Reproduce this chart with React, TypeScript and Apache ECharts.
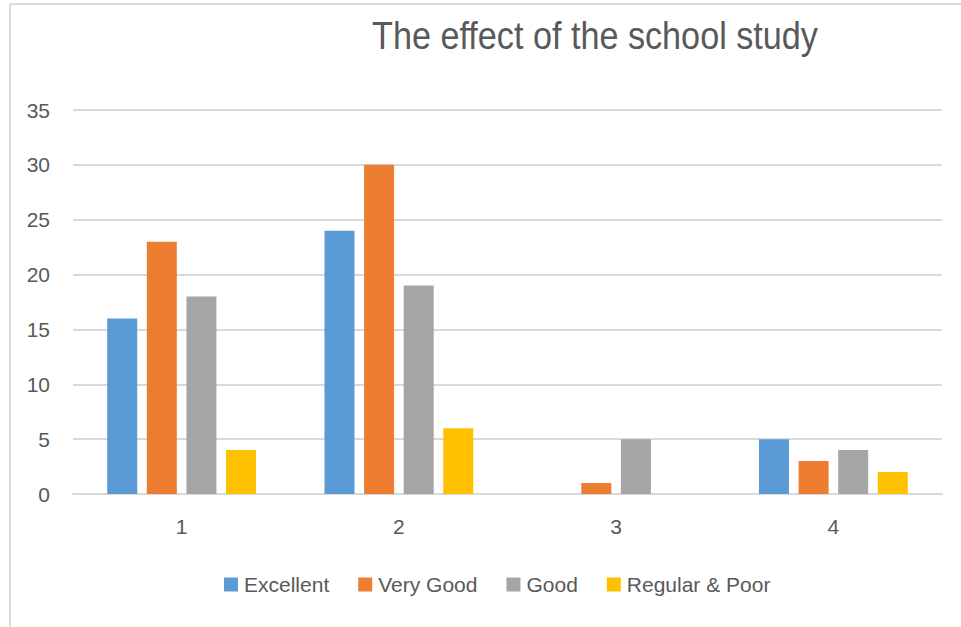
import React, { useEffect, useRef } from "react";
import * as echarts from "echarts";

const categories = ["1", "2", "3", "4"];
const seriesNames = ["Excellent", "Very Good", "Good", "Regular & Poor"];
const excellent = [16, 24, 0, 5];
const veryGood = [23, 30, 1, 3];
const good = [18, 19, 5, 4];
const regularPoor = [4, 6, 0, 2];
const colors = ["#5b9bd5", "#ed7d31", "#a5a5a5", "#ffc000"];
const titleText = "The effect of the school study";

const FONT = "'Liberation Sans', Arial, sans-serif";

export default function App() {
  const ref = useRef<HTMLDivElement>(null);
  useEffect(() => {
    if (!ref.current) return;
    const chart = echarts.init(ref.current, undefined, { renderer: "svg" });
    const values = [excellent, veryGood, good, regularPoor];
    chart.setOption({
      animation: false,
      backgroundColor: "#ffffff",
      legend: {
        bottom: 27,
        left: 219,
        itemWidth: 14,
        itemHeight: 14,
        itemGap: 29,
        icon: "rect",
        textStyle: { fontFamily: FONT, fontSize: 21, color: "#595959", padding: [0, 0, 0, 1] },
        data: seriesNames,
      },
      grid: { left: 73, right: 19, top: 110, bottom: 133, containLabel: false },
      xAxis: {
        type: "category",
        data: categories,
        axisLine: { lineStyle: { color: "#d9d9d9", width: 2 } },
        axisTick: { show: false },
        axisLabel: { fontFamily: FONT, fontSize: 21, color: "#595959", margin: 22 },
      },
      yAxis: {
        type: "value",
        min: 0,
        max: 35,
        interval: 5,
        axisLine: { show: false },
        axisTick: { show: false },
        splitLine: { lineStyle: { color: "#d9d9d9", width: 2 } },
        axisLabel: { fontFamily: FONT, fontSize: 21, color: "#595959", margin: 23 },
      },
      graphic: [
        { type: "line", shape: { x1: 10, y1: 4, x2: 10, y2: 627 }, style: { stroke: "#d9d9d9", lineWidth: 2 } },
        { type: "line", shape: { x1: 10, y1: 4, x2: 961, y2: 4 }, style: { stroke: "#d9d9d9", lineWidth: 2 } },
        {
          type: "text",
          x: 595,
          y: 36,
          scaleX: 0.9,
          style: {
            text: titleText,
            fontFamily: FONT,
            fontSize: 38,
            fill: "#595959",
            align: "center",
            verticalAlign: "middle",
          },
        },
      ],
      series: seriesNames.map((name, i) => ({
        name,
        type: "bar",
        data: values[i],
        barWidth: 30,
        barGap: "32%",
        itemStyle: { color: colors[i] },
      })),
    });
    return () => chart.dispose();
  }, []);
  return <div ref={ref} style={{ position: "fixed", left: 0, top: 0, width: 961, height: 627 }} />;
}
